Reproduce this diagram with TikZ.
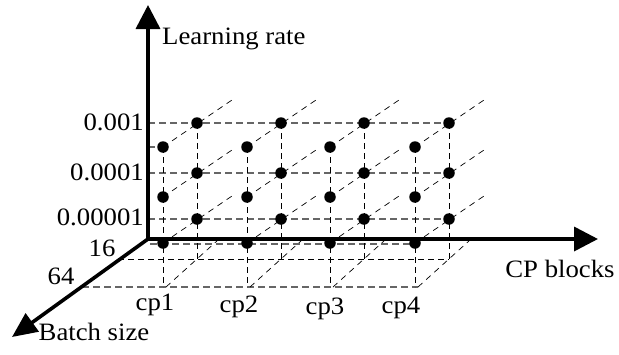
\documentclass[tikz,border=0pt]{standalone}
\usepackage{fontspec}
\setmainfont[FakeStretch=1.07]{Liberation Serif}
\usetikzlibrary{arrows.meta}
\begin{document}
\begin{tikzpicture}[x=1pt,y=-1pt,
  axisline/.style={line width=3.6pt},
  hgrid/.style={dash pattern=on 7pt off 4pt, line width=1.1pt, black!60},
  bgrid/.style={dash pattern=on 6pt off 4pt, line width=0.9pt, black},
  vgrid/.style={dash pattern=on 6pt off 4pt, line width=0.8pt, black},
  dgrid/.style={dash pattern=on 6pt off 5pt, line width=0.7pt, black},
  dot/.style={circle, fill=black, inner sep=0pt, minimum size=11.5pt},
  lbl/.style={font=\fontsize{25}{29}\selectfont, inner sep=0pt},
]
\useasboundingbox (0,0) rectangle (619,354);

% axes end points
\coordinate (O) at (148,239);
\coordinate (Ytip) at (148,5);
\coordinate (Xtip) at (598,239);
\coordinate (Ztip) at (12,337);

% back-plane horizontal grid lines
\foreach \yb in {123,173,219} {
  \draw[hgrid] (148,\yb) -- (449,\yb);
}
\draw[hgrid] (148,147) -- (163,147);

% bottom plane lines
\draw[hgrid] (150,244) -- (416,244);
\draw[bgrid] (118,259) -- (449,259);
\draw[hgrid] (82,287) -- (418,287);

% verticals and diagonals
\foreach \xb [count=\i] in {197,281,364,449} {
  \pgfmathsetmacro\xf{\xb-34}
  \coordinate (bb\i) at (\xb,259);
  \coordinate (fb\i) at (\xf,287);
  \coordinate (bt\i) at (\xb,123);
  \coordinate (ft\i) at (\xf,147);
  \draw[vgrid] (bt\i) -- (bb\i);
  \draw[vgrid] (ft\i) -- (fb\i);
  \draw[dgrid] ([xshift=3pt]fb\i) -- (\xb+21,240);
  \foreach \yb [count=\j] in {123,173,219} {
    \coordinate (b\i-\j) at (\xb,\yb);
    \coordinate (f\i-\j) at (\xf,\yb+24);
    \coordinate (e\i-\j) at (\xb+35,\yb-23);
    \draw[dgrid] (f\i-\j) -- (e\i-\j);
  }
}

% axes
\draw[axisline,-{Triangle[length=24pt,width=24pt]}] (O) -- (Ytip);
\draw[axisline,-{Triangle[length=24pt,width=24pt]}] (146.5,239) -- (Xtip);
\draw[axisline,-{Triangle[length=25pt,width=22pt]}] (O) -- (Ztip);

% dots
\foreach \i in {1,2,3,4} {
  \foreach \j in {1,2,3} {
    \node[dot] (db\i-\j) at (b\i-\j) {};
    \node[dot] (df\i-\j) at (f\i-\j) {};
  }
}

% labels
\node[lbl, anchor=base west] (lr) at (162,44) {Learning rate};
\node[lbl, anchor=east] (l1) at (144,122) {0.001};
\node[lbl, anchor=east] (l2) at (144,172) {0.0001};
\node[lbl, anchor=east] (l3) at (144,217) {0.00001};
\node[lbl] (b16) at (102,248) {16};
\node[lbl] (b64) at (61,276) {64};
\node[lbl, anchor=base] (c1) at (155,310) {cp1};
\node[lbl, anchor=base] (c2) at (239,312) {cp2};
\node[lbl, anchor=base] (c3) at (325,314) {cp3};
\node[lbl, anchor=base] (c4) at (401,313) {cp4};
\node[lbl, anchor=base] (cpb) at (560,277) {CP blocks};
\node[lbl, anchor=base] (bs) at (94,340) {Batch size};
\end{tikzpicture}
\end{document}
